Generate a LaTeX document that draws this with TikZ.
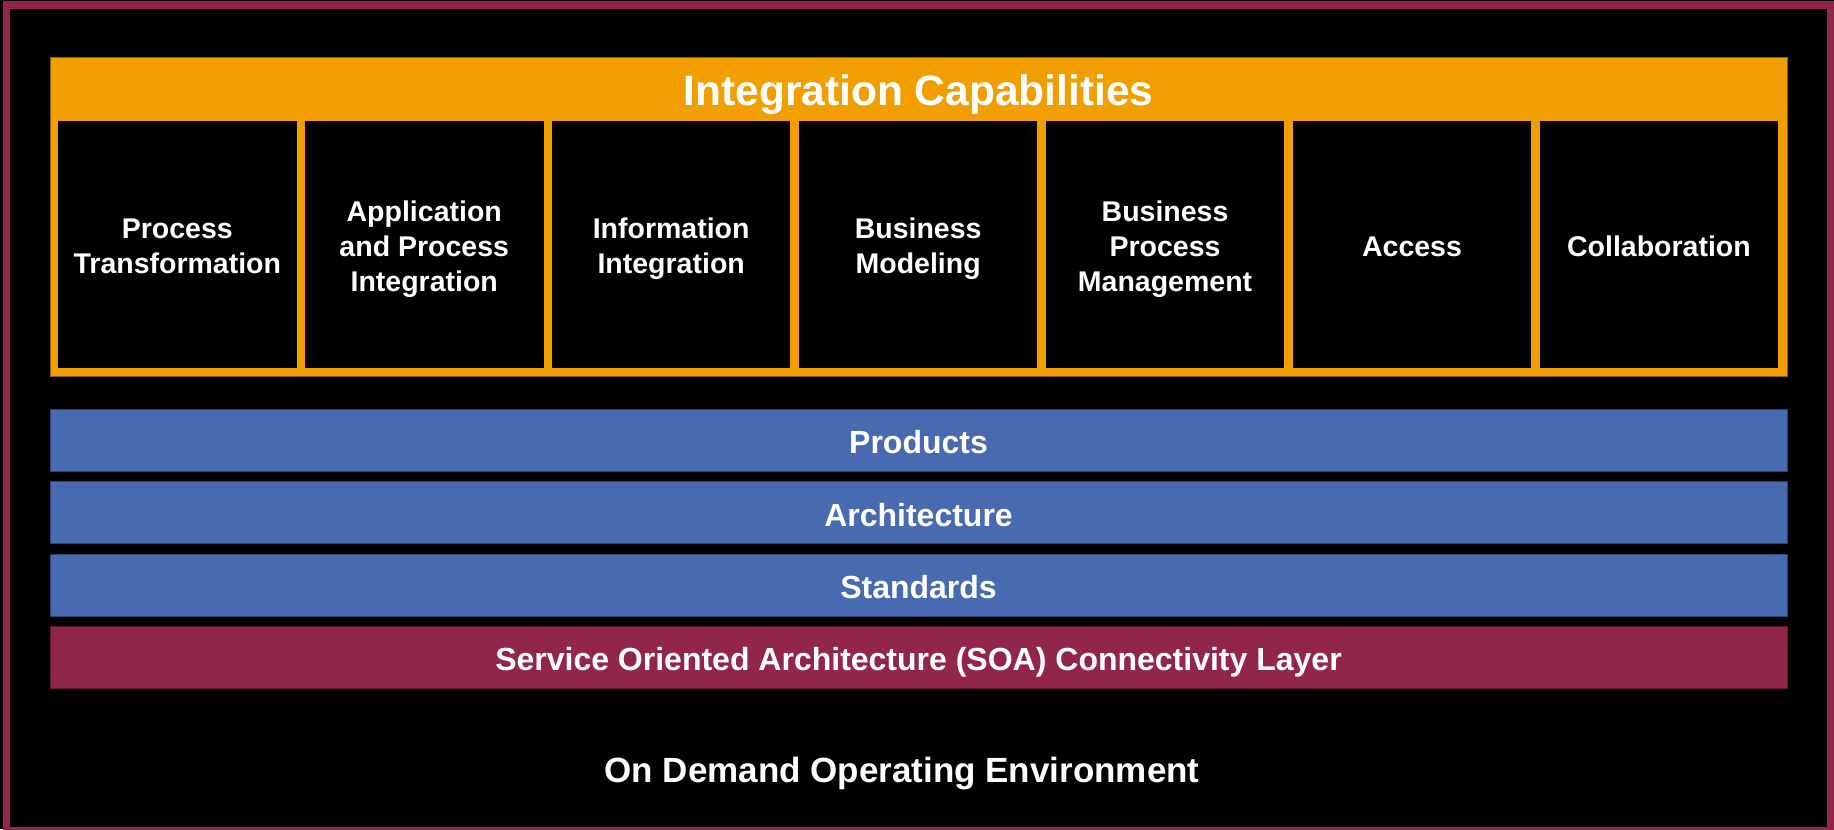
\documentclass[tikz,border=0pt]{standalone}
\usepackage{fontspec}
\setmainfont{Liberation Sans}
\usetikzlibrary{positioning}

\definecolor{soamaroon}{HTML}{92264A}
\definecolor{capsorange}{HTML}{F19E00}
\definecolor{layerblue}{HTML}{476AB1}

\begin{document}
\begin{tikzpicture}[x=0.5pt,y=-0.5pt,
  capcell/.style={fill=black,minimum width=119.3pt,minimum height=123.65pt,inner sep=0pt,outer sep=0pt,
    text=white,align=center,font=\fontsize{14.25pt}{17.5pt}\selectfont\bfseries,
    text height=#1,text depth=2.85pt},
  capcell/.default=14.25pt,
  layer/.style={fill=layerblue,draw=layerblue!65!black,line width=0.5pt,minimum width=868.5pt,minimum height=31pt,
    inner sep=0pt,outer sep=0pt,text=white,font=\fontsize{16pt}{19pt}\selectfont\bfseries,
    text height=16pt,text depth=2.56pt}]
\useasboundingbox (0,0) rectangle (1834,829);
\fill[black] (0,0) rectangle (1834,829);
\draw[soamaroon,line width=3.75pt] (6.3,5) rectangle (1830.3,830.5);

\node[fill=capsorange,draw=capsorange!60!black,line width=0.5pt,minimum width=868.5pt,minimum height=159.35pt,
  inner sep=0pt,outer sep=0pt,anchor=north west] (capframe) at (50,58) {};
\node[anchor=base,text=white,font=\fontsize{21.25pt}{25pt}\selectfont\bfseries] (captitle) at (918.5,105.7) {Integration Capabilities};

\node[capcell=31.75pt,anchor=north west] (proctrans) at (58,121) {Process\\Transformation};
\node[capcell=49.25pt,right=4.17pt of proctrans] (appint) {Application\\and Process\\Integration};
\node[capcell=31.75pt,right=4.17pt of appint] (infoint) {Information\\Integration};
\node[capcell=31.75pt,right=4.17pt of infoint] (busmodel) {Business\\Modeling};
\node[capcell=49.25pt,right=4.17pt of busmodel] (bpm) {Business\\Process\\Management};
\node[capcell,right=4.17pt of bpm] (access) {Access};
\node[capcell,right=4.17pt of access] (collab) {Collaboration};

\node[layer,anchor=north west] (products) at (50,409.3) {Products};
\node[layer,below=5.2pt of products] (arch) {Architecture};
\node[layer,below=5.2pt of arch] (standards) {Standards};
\node[layer,below=5.2pt of standards,fill=soamaroon,draw=soamaroon!65!black] (soa) {Service Oriented Architecture (SOA) Connectivity Layer};

\node[anchor=base,text=white,font=\fontsize{17.5pt}{21pt}\selectfont\bfseries] (ondemand) at (902,782.5) {On Demand Operating Environment};
\end{tikzpicture}
\end{document}
